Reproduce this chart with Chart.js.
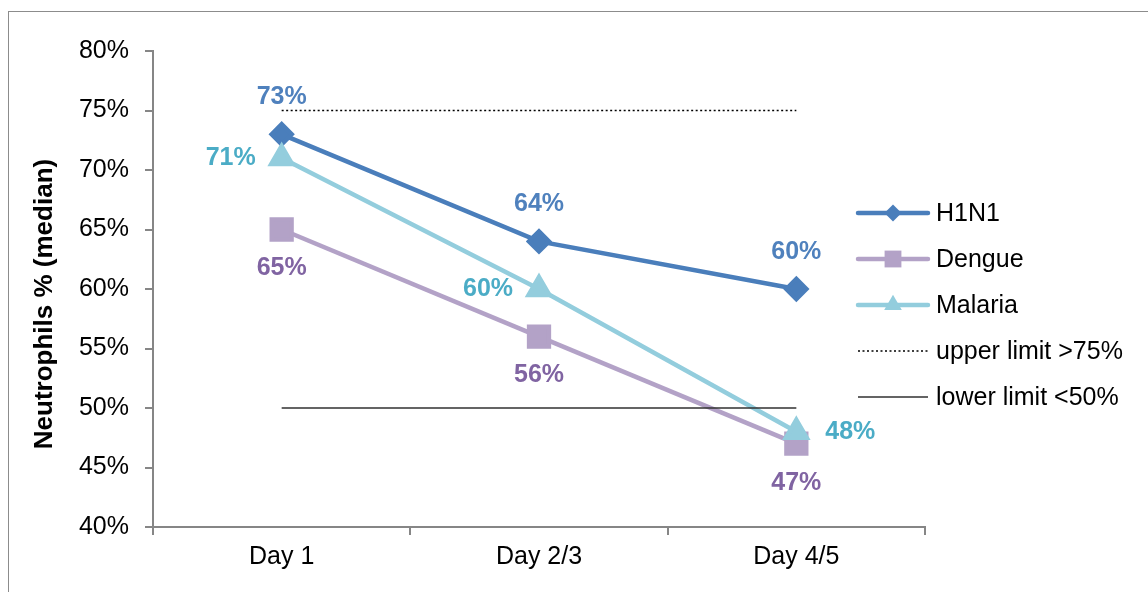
<!DOCTYPE html>
<html>
<head>
<meta charset="utf-8">
<script src="https://cdn.jsdelivr.net/npm/chart.js@4.4.1/dist/chart.umd.min.js"></script>
<style>
  html, body { margin: 0; padding: 0; background: #ffffff; }
  #wrap { width: 1148px; height: 592px; position: relative; }
</style>
</head>
<body>
<div id="wrap"><canvas id="chart" width="1148" height="592"></canvas></div>
<script>
// Categories and series (median neutrophil %)
const days = ['Day 1', 'Day 2/3', 'Day 4/5'];
const h1n1 = [73, 64, 60];
const dengue = [65, 56, 47];
const malaria = [71, 60, 48];
const upperLimit = [75, 75, 75];
const lowerLimit = [50, 50, 50];
const yTicks = [40, 45, 50, 55, 60, 65, 70, 75, 80];
const yTitle = 'Neutrophils % (median)';

const FONT = '"Liberation Sans", Arial, Helvetica, sans-serif';

// Where each series puts its value labels relative to its points
const labelPlacement = {
  H1N1: ['above', 'above', 'above'],
  Dengue: ['below', 'below', 'below'],
  Malaria: ['left', 'left', 'right']
};

const datasets = [
  {
    label: 'H1N1', data: h1n1, borderColor: '#4A7EBB', backgroundColor: '#4A7EBB',
    borderWidth: 4.5, pointStyle: 'rectRot', pointRadius: 10, pointHoverRadius: 10,
    labelColor: '#4F81BD', order: 3
  },
  {
    label: 'Dengue', data: dengue, borderColor: '#B3A2C7', backgroundColor: '#B3A2C7',
    borderWidth: 4.5, pointStyle: 'rect', pointRadius: 14, pointHoverRadius: 14,
    labelColor: '#8064A2', order: 2
  },
  {
    label: 'Malaria', data: malaria, borderColor: '#93CDDD', backgroundColor: '#93CDDD',
    borderWidth: 4.5, pointStyle: 'triangle', pointRadius: 12, pointHoverRadius: 12,
    labelColor: '#4BACC6', order: 1
  },
  {
    label: 'upper limit >75%', data: upperLimit, borderColor: '#000000',
    borderWidth: 1.5, borderDash: [2, 2.5], pointRadius: 0, order: 0
  },
  {
    label: 'lower limit <50%', data: lowerLimit, borderColor: '#303030',
    borderWidth: 1.4, pointRadius: 0, order: 0
  }
];

// Outer frame of the chart object
const framePlugin = {
  id: 'frame',
  beforeDraw(chart) {
    const ctx = chart.ctx;
    ctx.save();
    ctx.strokeStyle = '#8C8C8C';
    ctx.lineWidth = 1;
    ctx.strokeRect(8.5, 11.5, 1300, 700);
    ctx.restore();
  }
};

// Value labels next to the series markers
const valueLabelPlugin = {
  id: 'valueLabels',
  afterDatasetsDraw(chart) {
    const ctx = chart.ctx;
    ctx.save();
    ctx.font = 'bold 25px ' + FONT;
    ctx.textBaseline = 'middle';
    ctx.textAlign = 'center';
    chart.data.datasets.forEach((ds, i) => {
      const place = labelPlacement[ds.label];
      if (!place) return;
      const meta = chart.getDatasetMeta(i);
      ctx.fillStyle = ds.labelColor;
      meta.data.forEach((pt, j) => {
        let x = pt.x, y = pt.y;
        const p = place[j];
        if (p === 'above') y -= 37;
        else if (p === 'below') y += 39;
        else if (p === 'left') x -= 51;
        else if (p === 'right') x += 54;
        ctx.fillText(ds.data[j] + '%', x, y);
      });
    });
    ctx.restore();
  }
};

// Rotated y-axis title
const yTitlePlugin = {
  id: 'yTitle',
  afterDraw(chart) {
    const ctx = chart.ctx;
    ctx.save();
    ctx.translate(45, 304);
    ctx.rotate(-Math.PI / 2);
    ctx.font = 'bold 26px ' + FONT;
    ctx.fillStyle = '#000000';
    ctx.textAlign = 'center';
    ctx.textBaseline = 'middle';
    ctx.fillText(yTitle, 0, 0);
    ctx.restore();
  }
};

// Legend on the right: line sample with marker, then the series name
const legendPlugin = {
  id: 'sideLegend',
  afterDraw(chart) {
    const ctx = chart.ctx;
    const x0 = 858, x1 = 928, tx = 936;
    const y0 = 213, dy = 46;
    ctx.save();
    chart.data.datasets.forEach((ds, i) => {
      const y = y0 + i * dy;
      ctx.save();
      ctx.strokeStyle = ds.borderColor;
      ctx.lineWidth = ds.borderWidth;
      ctx.lineCap = ds.pointRadius ? 'round' : 'butt';
      ctx.setLineDash(ds.borderDash || []);
      ctx.beginPath();
      ctx.moveTo(x0, y);
      ctx.lineTo(x1, y);
      ctx.stroke();
      ctx.restore();
      if (ds.pointRadius) {
        ctx.fillStyle = ds.backgroundColor;
        ctx.strokeStyle = ds.borderColor;
        Chart.helpers.drawPoint(ctx, {
          pointStyle: ds.pointStyle,
          radius: ds.pointRadius * 0.85,
          rotation: 0,
          borderWidth: 0
        }, (x0 + x1) / 2, y);
      }
      ctx.fillStyle = '#000000';
      ctx.font = '25px ' + FONT;
      ctx.textAlign = 'left';
      ctx.textBaseline = 'middle';
      ctx.fillText(ds.label, tx, y + 1);
    });
    ctx.restore();
  }
};

new Chart(document.getElementById('chart'), {
  type: 'line',
  data: { labels: days, datasets },
  plugins: [framePlugin, valueLabelPlugin, yTitlePlugin, legendPlugin],
  options: {
    responsive: false,
    animation: false,
    events: [],
    layout: { padding: { left: 0, right: 223, top: 51, bottom: 0 } },
    plugins: { legend: { display: false }, tooltip: { enabled: false } },
    elements: { line: { tension: 0 } },
    scales: {
      x: {
        type: 'category',
        offset: true,
        grid: {
          offset: true, drawOnChartArea: false, drawTicks: true,
          tickLength: 8, color: '#868686', lineWidth: 2
        },
        border: { color: '#868686', width: 2 },
        ticks: { color: '#000000', font: { family: FONT, size: 25 }, padding: 7 },
        afterFit(scale) { scale.height = 65; }
      },
      y: {
        min: 40, max: 80,
        afterBuildTicks(scale) { scale.ticks = yTicks.map(v => ({ value: v })); },
        grid: {
          drawOnChartArea: false, drawTicks: true,
          tickLength: 8, color: '#868686', lineWidth: 2
        },
        border: { color: '#868686', width: 2 },
        ticks: {
          color: '#000000', font: { family: FONT, size: 25 }, padding: 16,
          callback: v => v + '%'
        },
        afterFit(scale) { scale.width = 153; }
      }
    }
  }
});
</script>
</body>
</html>
